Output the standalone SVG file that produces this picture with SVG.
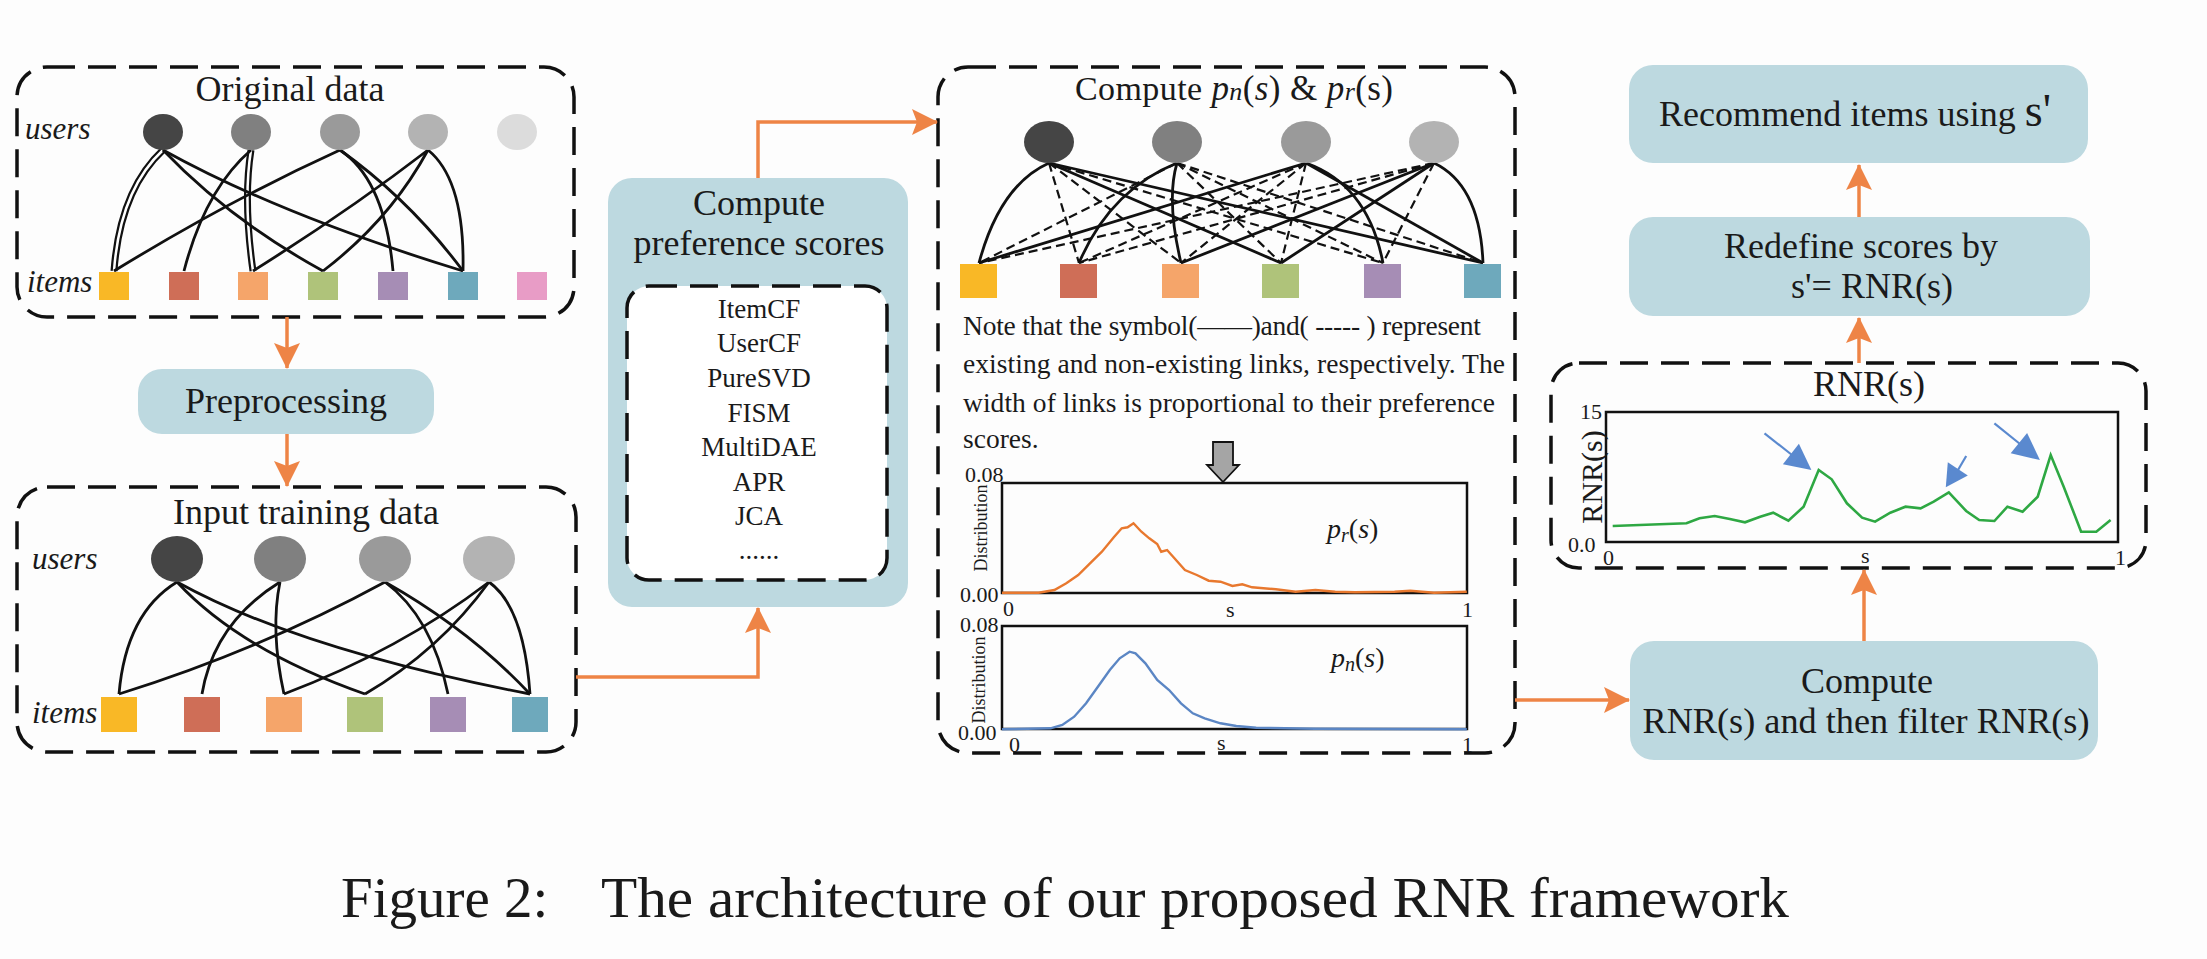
<svg xmlns="http://www.w3.org/2000/svg" width="2207" height="959" viewBox="0 0 2207 959">
<defs>
<style>
text{font-family:"Liberation Serif","Times New Roman",serif;fill:#1a1a1a}
.dbox{fill:none;stroke:#111;stroke-width:3.5;stroke-dasharray:28 13}
.bbox{fill:#BDD9E0;stroke:none}
.t36{font-size:36px;text-anchor:middle}
.lab{font-size:31px;font-style:italic}
.meth{font-size:27px;text-anchor:middle}
.note{font-size:27.5px}
.ax{font-size:22px}
.e{fill:none;stroke:#111;stroke-width:2.8}
.d{fill:none;stroke:#111;stroke-width:2.2;stroke-dasharray:9 5}
.dbl{fill:none;stroke:#111;stroke-width:7}
.dbli{fill:none;stroke:#fff;stroke-width:2.5}
.oc{fill:none;stroke:#EE8446;stroke-width:3.5}
.frame{fill:none;stroke:#111;stroke-width:2.5}
.c1{fill:#454545}.c2{fill:#808080}.c3{fill:#9A9A9A}.c4{fill:#B3B3B3}.c5{fill:#DCDCDC}
.i1{fill:#F9B826}.i2{fill:#CF6E57}.i3{fill:#F5A56A}.i4{fill:#AFC37A}.i5{fill:#A68DB5}.i6{fill:#6EA9BC}.i7{fill:#E89CC6}
.ba{fill:#5A89CF}
.bl{stroke:#5A89CF;stroke-width:2.2;fill:none}
</style>
<marker id="oa" viewBox="0 0 26 26" refX="25" refY="13" markerWidth="26" markerHeight="26" markerUnits="userSpaceOnUse" orient="auto">
<path d="M0,0 L26,13 L0,26 L5,13 Z" fill="#EE8446"/>
</marker>
</defs>
<rect width="2207" height="959" fill="#FDFDFD"/>

<g id="original-data">
<rect class="dbox" x="17" y="67" width="557" height="250" rx="30"/>
<text class="t36" x="290" y="101">Original data</text>
<text class="lab" x="25" y="139">users</text>
<text class="lab" x="27" y="292">items</text>
<path class="dbl" d="M163,150 Q120,190 114,271"/><path class="dbli" d="M163,150 Q120,190 114,271"/>
<path class="dbl" d="M251,150 Q243,200 253,271"/><path class="dbli" d="M251,150 Q243,200 253,271"/>
<path class="e" d="M163,150 Q230,220 323,271"/>
<path class="e" d="M163,150 Q280,215 463,271"/>
<path class="e" d="M251,150 Q205,190 184,271"/>
<path class="e" d="M340,150 Q230,200 114,271"/>
<path class="e" d="M340,150 Q385,180 393,271"/>
<path class="e" d="M340,150 Q410,200 463,271"/>
<path class="e" d="M428,150 Q350,210 253,271"/>
<path class="e" d="M428,150 Q390,220 323,271"/>
<path class="e" d="M428,150 Q465,180 463,271"/>
<ellipse class="c1" cx="163" cy="132" rx="20" ry="18"/>
<ellipse class="c2" cx="251" cy="132" rx="20" ry="18"/>
<ellipse class="c3" cx="340" cy="132" rx="20" ry="18"/>
<ellipse class="c4" cx="428" cy="132" rx="20" ry="18"/>
<ellipse class="c5" cx="517" cy="132" rx="20" ry="18"/>
<rect class="i1" x="99" y="272" width="30" height="28"/>
<rect class="i2" x="169" y="272" width="30" height="28"/>
<rect class="i3" x="238" y="272" width="30" height="28"/>
<rect class="i4" x="308" y="272" width="30" height="28"/>
<rect class="i5" x="378" y="272" width="30" height="28"/>
<rect class="i6" x="448" y="272" width="30" height="28"/>
<rect class="i7" x="517" y="272" width="30" height="28"/>
</g>

<g id="preprocessing">
<rect class="bbox" x="138" y="369" width="296" height="65" rx="24"/>
<text class="t36" x="286" y="413">Preprocessing</text>
</g>

<g id="input-training-data">
<rect class="dbox" x="17" y="487" width="559" height="265" rx="30"/>
<text class="t36" x="306" y="524">Input training data</text>
<text class="lab" x="32" y="569">users</text>
<text class="lab" x="32" y="723">items</text>
<path class="e" d="M177,582 Q126,613 119,694"/>
<path class="e" d="M177,582 Q240,650 365,694"/>
<path class="e" d="M177,582 Q300,650 530,694"/>
<path class="e" d="M280,582 Q214,623 202,694"/>
<path class="e" d="M280,582 Q270,630 284,694"/>
<path class="e" d="M385,582 Q260,650 119,694"/>
<path class="e" d="M385,582 Q432,617 448,694"/>
<path class="e" d="M385,582 Q470,630 530,694"/>
<path class="e" d="M489,582 Q400,650 284,694"/>
<path class="e" d="M489,582 Q440,650 365,694"/>
<path class="e" d="M489,582 Q524,607 530,694"/>
<ellipse class="c1" cx="177" cy="559" rx="26" ry="23"/>
<ellipse class="c2" cx="280" cy="559" rx="26" ry="23"/>
<ellipse class="c3" cx="385" cy="559" rx="26" ry="23"/>
<ellipse class="c4" cx="489" cy="559" rx="26" ry="23"/>
<rect class="i1" x="101" y="697" width="36" height="35"/>
<rect class="i2" x="184" y="697" width="36" height="35"/>
<rect class="i3" x="266" y="697" width="36" height="35"/>
<rect class="i4" x="347" y="697" width="36" height="35"/>
<rect class="i5" x="430" y="697" width="36" height="35"/>
<rect class="i6" x="512" y="697" width="36" height="35"/>
</g>

<g id="compute-preference-scores">
<rect class="bbox" x="608" y="178" width="300" height="429" rx="24"/>
<text class="t36" x="759" y="215">Compute</text>
<text class="t36" x="759" y="255" textLength="251" lengthAdjust="spacing">preference scores</text>
<rect x="627" y="286" width="260" height="294" rx="22" fill="#fff"/>
<rect x="627" y="286" width="260" height="294" rx="22" class="dbox"/>
<text class="meth" x="759" y="318">ItemCF</text>
<text class="meth" x="759" y="352">UserCF</text>
<text class="meth" x="759" y="387">PureSVD</text>
<text class="meth" x="759" y="422">FISM</text>
<text class="meth" x="759" y="456">MultiDAE</text>
<text class="meth" x="759" y="491">APR</text>
<text class="meth" x="759" y="525">JCA</text>
<text class="meth" x="759" y="559">......</text>
</g>

<g id="compute-pn-pr">
<rect class="dbox" x="938" y="67" width="577" height="686" rx="30"/>
<text x="1075" y="100" textLength="318" lengthAdjust="spacing"><tspan font-size="34">Compute </tspan><tspan font-size="35" font-style="italic">p</tspan><tspan font-size="26" font-style="italic">n</tspan><tspan font-size="35">(<tspan font-style="italic">s</tspan>) &amp; </tspan><tspan font-size="35" font-style="italic">p</tspan><tspan font-size="26" font-style="italic">r</tspan><tspan font-size="35">(s)</tspan></text>
<path class="e" d="M1049,163 Q1000,185 979,263"/>
<path class="e" d="M1049,163 L1281,263"/>
<path class="e" d="M1049,163 L1483,263"/>
<path class="e" d="M1177,163 Q1110,190 1079,263"/>
<path class="e" d="M1177,163 Q1166,200 1181,263"/>
<path class="e" d="M1306,163 L979,263" stroke-width="5"/>
<path class="e" d="M1306,163 Q1368,185 1383,263"/>
<path class="e" d="M1306,163 L1483,263"/>
<path class="e" d="M1434,163 L1181,263"/>
<path class="e" d="M1434,163 L1281,263"/>
<path class="e" d="M1434,163 Q1480,185 1483,263"/>
<path class="d" d="M1049,163 L1079,263" stroke-width="4.5"/>
<path class="d" d="M1049,163 L1181,263"/>
<path class="d" d="M1049,163 L1383,263"/>
<path class="d" d="M1177,163 L979,263"/>
<path class="d" d="M1177,163 L1281,263"/>
<path class="d" d="M1177,163 L1383,263"/>
<path class="d" d="M1177,163 L1483,263"/>
<path class="d" d="M1306,163 L1079,263"/>
<path class="d" d="M1306,163 L1181,263"/>
<path class="d" d="M1306,163 L1281,263"/>
<path class="d" d="M1434,163 L979,263"/>
<path class="d" d="M1434,163 L1079,263"/>
<path class="d" d="M1434,163 L1383,263"/>
<ellipse class="c1" cx="1049" cy="142" rx="25" ry="21"/>
<ellipse class="c2" cx="1177" cy="142" rx="25" ry="21"/>
<ellipse class="c3" cx="1306" cy="142" rx="25" ry="21"/>
<ellipse class="c4" cx="1434" cy="142" rx="25" ry="21"/>
<rect class="i1" x="960" y="264" width="37" height="34"/>
<rect class="i2" x="1060" y="264" width="37" height="34"/>
<rect class="i3" x="1162" y="264" width="37" height="34"/>
<rect class="i4" x="1262" y="264" width="37" height="34"/>
<rect class="i5" x="1364" y="264" width="37" height="34"/>
<rect class="i6" x="1464" y="264" width="37" height="34"/>
<text class="note" x="963" y="335" textLength="518" lengthAdjust="spacing">Note that the symbol(——)and( ----- ) represent</text>
<text class="note" x="963" y="373" textLength="542" lengthAdjust="spacing">existing and non-existing links, respectively. The</text>
<text class="note" x="963" y="412" textLength="532" lengthAdjust="spacing">width of links is proportional to their preference</text>
<text class="note" x="963" y="448">scores.</text>
<path d="M1213,442 L1233,442 L1233,465 L1239,465 L1223,482 L1207,465 L1213,465 Z" fill="#A5A5A5" stroke="#111" stroke-width="1.8"/>
<rect class="frame" x="1002" y="483" width="465" height="110"/>
<polyline fill="none" stroke="#E8782E" stroke-width="2.4" points="1002,592.7 1038.6,592.7 1054.4,590 1066.3,583.3 1078.2,575 1090,563.3 1101.9,551.7 1113.8,537.3 1121.7,528.3 1127.6,527.3 1133.5,523.3 1141.4,531.7 1149.3,538.3 1157.2,544 1161.2,551.7 1167.1,550 1173.1,556.7 1184.9,570 1196.8,575 1208.7,580.7 1220.5,581.7 1232.4,586 1242.3,584.3 1252.1,587.3 1275.9,589.3 1295.6,591.7 1315.4,590 1335.2,591.7 1354.9,592.3 1394.5,591.7 1410.3,590.7 1434,592.7 1466.8,591.7"/>
<text class="ax" x="965" y="482">0.08</text>
<text class="ax" x="960" y="602">0.00</text>
<text class="ax" x="1003" y="616">0</text>
<text class="ax" x="1226" y="617">s</text>
<text class="ax" x="1462" y="617">1</text>
<text font-size="18" text-anchor="middle" transform="translate(987,528) rotate(-90)">Distribution</text>
<text font-size="28" font-style="italic" x="1327" y="538">p<tspan font-size="20" dy="4">r</tspan><tspan dy="-4" font-style="normal">(</tspan>s<tspan font-style="normal">)</tspan></text>
<rect class="frame" x="1002" y="626" width="465" height="103"/>
<polyline fill="none" stroke="#5B86C4" stroke-width="2.4" points="1002,729.3 1050.5,728.3 1062.3,725 1074.2,716.7 1086.1,703.3 1097.9,686.7 1109.8,670 1119.7,658.3 1129.6,651.7 1135.5,653.3 1145.4,663.3 1157.2,680 1169.1,690 1181,703.3 1192.8,713.3 1204.7,718.3 1220.5,723.3 1236.3,726 1256.1,727.7 1315.4,728.7 1466.8,729.3"/>
<text class="ax" x="960" y="632">0.08</text>
<text class="ax" x="958" y="740">0.00</text>
<text class="ax" x="1009" y="752">0</text>
<text class="ax" x="1217" y="750">s</text>
<text class="ax" x="1462" y="752">1</text>
<text font-size="18" text-anchor="middle" transform="translate(985,680) rotate(-90)">Distribution</text>
<text font-size="28" font-style="italic" x="1331" y="667">p<tspan font-size="20" dy="4">n</tspan><tspan dy="-4" font-style="normal">(</tspan>s<tspan font-style="normal">)</tspan></text>
</g>

<g id="compute-rnr">
<rect class="bbox" x="1630" y="641" width="468" height="119" rx="24"/>
<text class="t36" x="1867" y="693">Compute</text>
<text class="t36" x="1866" y="733" textLength="447" lengthAdjust="spacingAndGlyphs">RNR(s) and then filter RNR(s)</text>
</g>

<g id="rnr-plot">
<rect class="dbox" x="1551" y="363" width="595" height="205" rx="28"/>
<text class="t36" x="1869" y="396">RNR(s)</text>
<rect class="frame" x="1606" y="412" width="512" height="130"/>
<polyline fill="none" stroke="#2EA843" stroke-width="2.6" points="1612.7,526 1686.5,523.3 1699.5,518.3 1714.7,516 1729.8,519 1745,522.3 1760.2,516.7 1773.2,512.7 1788.4,520.7 1803.6,506.7 1818.7,470 1831.7,479.3 1846.9,503.3 1862.1,517.7 1875.1,521.7 1890.3,512.7 1905.5,506.7 1920.6,508.3 1933.7,501.7 1948.8,492.3 1966.2,511 1979.2,520 1994.4,521 2007.4,506.7 2022.6,511.7 2037.7,496.7 2050.7,455 2063.7,486.7 2081.1,531.7 2096.3,531.7 2110.6,520"/>
<text class="ax" x="1580" y="419">15</text>
<text class="ax" x="1568" y="552">0.0</text>
<text class="ax" x="1603" y="565">0</text>
<text class="ax" x="1861" y="563">s</text>
<text class="ax" x="2115" y="565">1</text>
<text font-size="30" text-anchor="middle" transform="translate(1602,477) rotate(-90)">RNR(s)</text>
<line class="bl" x1="1764.5" y1="433.3" x2="1792" y2="455"/>
<polygon class="ba" points="1811.4,470 1782.9,464.2 1798.9,443.8"/>
<line class="bl" x1="1966.2" y1="456" x2="1958" y2="470"/>
<polygon class="ba" points="1945.8,487.3 1947.8,462.3 1967.8,475.4"/>
<line class="bl" x1="1994.4" y1="423.3" x2="2020" y2="444"/>
<polygon class="ba" points="2039.9,460 2010.7,453.2 2027.1,433"/>
</g>

<g id="redefine-scores">
<rect class="bbox" x="1629" y="217" width="461" height="99" rx="24"/>
<text class="t36" x="1861" y="258">Redefine scores by</text>
<text class="t36" x="1872" y="298">s'= RNR(s)</text>
</g>

<g id="recommend-items">
<rect class="bbox" x="1629" y="65" width="459" height="98" rx="24"/>
<text class="t36" x="1855" y="126" textLength="392" lengthAdjust="spacing">Recommend items using <tspan font-size="46">s'</tspan></text>
</g>

<g id="connectors">
<path class="oc" d="M287,317 L287,368" marker-end="url(#oa)"/>
<path class="oc" d="M287,434 L287,486" marker-end="url(#oa)"/>
<path class="oc" d="M576,677 L758,677 L758,608" marker-end="url(#oa)"/>
<path class="oc" d="M758,178 L758,122 L937,122" marker-end="url(#oa)"/>
<path class="oc" d="M1515,700 L1629,700" marker-end="url(#oa)"/>
<path class="oc" d="M1864,641 L1864,570" marker-end="url(#oa)"/>
<path class="oc" d="M1859,363 L1859,318" marker-end="url(#oa)"/>
<path class="oc" d="M1859,217 L1859,165" marker-end="url(#oa)"/>
</g>

<g id="caption">
<text x="341" y="917" font-size="57">Figure 2:</text>
<text x="601" y="917" font-size="57" textLength="1188" lengthAdjust="spacingAndGlyphs">The architecture of our proposed RNR framework</text>
</g>
</svg>
